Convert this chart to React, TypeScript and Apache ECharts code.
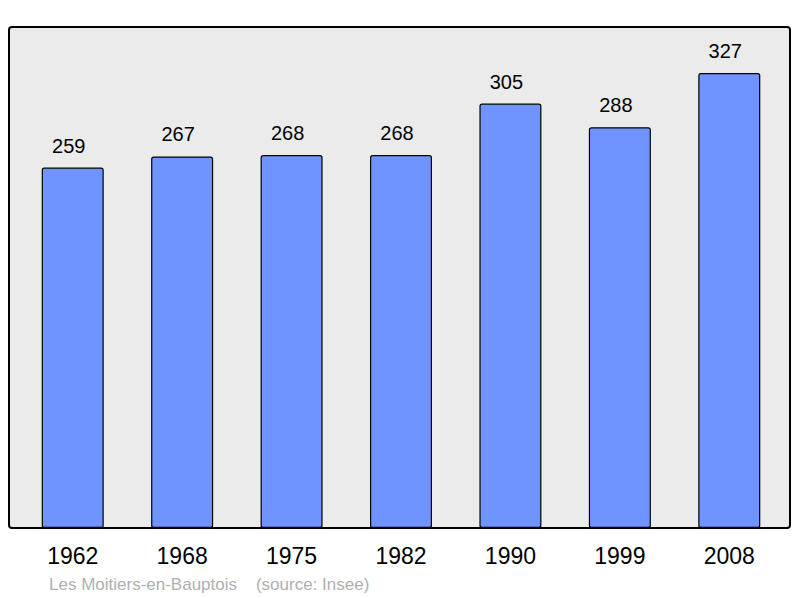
import React, { useEffect, useRef } from "react";
import * as echarts from "echarts";

const years = ["1962", "1968", "1975", "1982", "1990", "1999", "2008"];
const population = [259, 267, 268, 268, 305, 288, 327];
const footer = "Les Moitiers-en-Bauptois    (source: Insee)";

export default function App() {
  const ref = useRef<HTMLDivElement>(null);
  useEffect(() => {
    if (!ref.current) return;
    const chart = echarts.init(ref.current, null, { renderer: "svg" });
    chart.setOption({
      animation: false,
      backgroundColor: "#ffffff",
      graphic: [
        {
          type: "rect",
          shape: { x: 9, y: 27, width: 781, height: 501, r: 3 },
          style: { fill: "#ebebeb", stroke: "#000000", lineWidth: 2 },
          z: -10,
        },
        {
          type: "text",
          x: 49,
          y: 584,
          style: {
            text: footer,
            fill: "#b0b0b0",
            font: "17px 'Liberation Sans', Arial, sans-serif",
            textVerticalAlign: "middle",
          },
        },
      ],
      grid: { left: 18, right: 16, top: 27, bottom: 70 },
      xAxis: {
        type: "category",
        data: years,
        axisLine: { show: false },
        axisTick: { show: false },
        axisLabel: {
          color: "#000",
          fontSize: 23,
          fontFamily: "'Liberation Sans', Arial, sans-serif",
          margin: 16,
        },
      },
      yAxis: {
        type: "value",
        min: 0,
        max: 360,
        show: false,
        splitLine: { show: false },
      },
      series: [
        {
          type: "bar",
          data: population,
          barWidth: 62,
          itemStyle: {
            color: "#7094ff",
            borderColor: "#000",
            borderWidth: 1.2,
            borderRadius: 2,
          },
          label: {
            show: true,
            position: "top",
            distance: 12,
            offset: [-4, 0],
            color: "#000",
            fontSize: 20,
            fontFamily: "'Liberation Sans', Arial, sans-serif",
          },
        },
      ],
    });
    return () => chart.dispose();
  }, []);
  return (
    <div
      ref={ref}
      style={{ position: "fixed", left: 0, top: 0, width: 800, height: 598 }}
    />
  );
}
